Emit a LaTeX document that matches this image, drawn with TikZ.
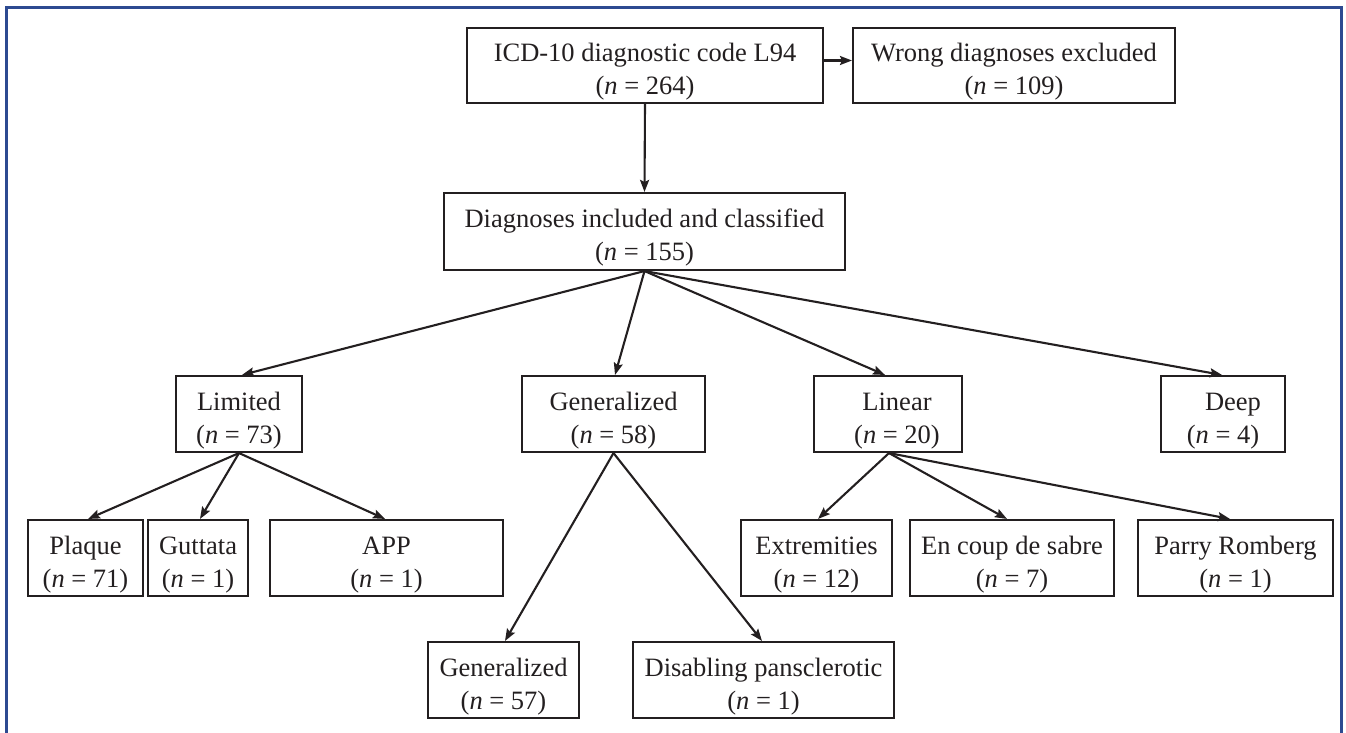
\documentclass[tikz,border=0pt]{standalone}
\usepackage{fontspec}
\setmainfont{Liberation Serif}
\usetikzlibrary{arrows.meta}
\definecolor{framecol}{HTML}{2D4A91}
\definecolor{ink}{HTML}{231F20}
\newcommand{\dn}{\rule{0pt}{31pt}}
\begin{document}
\begin{tikzpicture}[x=1pt,y=-1pt,
  box/.style={draw=ink, line width=2.1pt, inner sep=0pt, align=center,
    font=\fontsize{26.5}{33}\selectfont, text=ink},
  conn/.style={draw=ink, line width=2.1pt, -{Stealth[length=12pt,width=9pt,inset=2pt]}}]
\useasboundingbox (0,0) rectangle (1346,733);
\draw[framecol, line width=3pt] (6,733) -- (6,7.5) -- (1341,7.5) -- (1341,733);
% level 0
\node[box, minimum width=356, minimum height=75] (icd) at (645,65.5) {\dn ICD-10 diagnostic code L94\\(\textit{n} = 264)};
\node[box, minimum width=322, minimum height=75] (wrong) at (1014,65.5) {\dn Wrong diagnoses excluded\\(\textit{n} = 109)};
\node[box, minimum width=401, minimum height=77] (diag) at (644.5,231.5) {\dn Diagnoses included and classified\\(\textit{n} = 155)};
% level 1
\node[box, minimum width=126, minimum height=76] (lim) at (239,414) {\dn Limited\\(\textit{n} = 73)};
\node[box, minimum width=183, minimum height=76] (gen) at (613.5,414) {\dn Generalized\\(\textit{n} = 58)};
\node[box, minimum width=148, minimum height=76] (lin) at (888,414) {\dn\hspace*{18pt}Linear\\\hspace*{18pt}(\textit{n} = 20)};
\node[box, minimum width=124, minimum height=76] (deep) at (1223,414) {\dn\hspace*{20pt}Deep\\(\textit{n} = 4)};
% level 2
\node[box, minimum width=115, minimum height=76] (plaque) at (85.5,558) {\dn Plaque\\(\textit{n} = 71)};
\node[box, minimum width=100, minimum height=76] (gutt) at (198,558) {\dn Guttata\\(\textit{n} = 1)};
\node[box, minimum width=233, minimum height=76] (app) at (386.5,558) {\dn APP\\(\textit{n} = 1)};
\node[box, minimum width=151, minimum height=76] (ext) at (816.5,558) {\dn Extremities\\(\textit{n} = 12)};
\node[box, minimum width=204, minimum height=76] (sabre) at (1012,558) {\dn En coup de sabre\\(\textit{n} = 7)};
\node[box, minimum width=195, minimum height=76] (parry) at (1235.5,558) {\dn Parry Romberg\\(\textit{n} = 1)};
% level 3
\node[box, minimum width=151, minimum height=76] (gen2) at (503.5,680) {\dn Generalized\\(\textit{n} = 57)};
\node[box, minimum width=261, minimum height=76] (dis) at (763.5,680) {\dn Disabling pansclerotic\\(\textit{n} = 1)};
% connectors
\draw[conn] ([yshift=5pt]icd.east) -- ([yshift=5pt]wrong.west);
\draw[conn] (icd.south) -- (diag.north);
\draw[conn] (diag.south) -- ([xshift=3pt]lim.north);
\draw[conn] (diag.south) -- ([xshift=1.5pt]gen.north);
\draw[conn] (diag.south) -- ([xshift=-3pt]lin.north);
\draw[conn] (diag.south) -- ([xshift=-1pt]deep.north);
\draw[conn] (lim.south) -- ([xshift=2.5pt]plaque.north);
\draw[conn] (lim.south) -- ([xshift=2pt]gutt.north);
\draw[conn] (lim.south) -- ([xshift=-1.5pt]app.north);
\draw[conn] (gen.south) -- ([xshift=1.5pt]gen2.north);
\draw[conn] (gen.south) -- ([xshift=-1.5pt]dis.north);
\draw[conn] ([xshift=1pt]lin.south) -- ([xshift=1.5pt]ext.north);
\draw[conn] ([xshift=1pt]lin.south) -- ([xshift=-5pt]sabre.north);
\draw[conn] ([xshift=1pt]lin.south) -- ([xshift=-5.5pt]parry.north);
\end{tikzpicture}
\end{document}
